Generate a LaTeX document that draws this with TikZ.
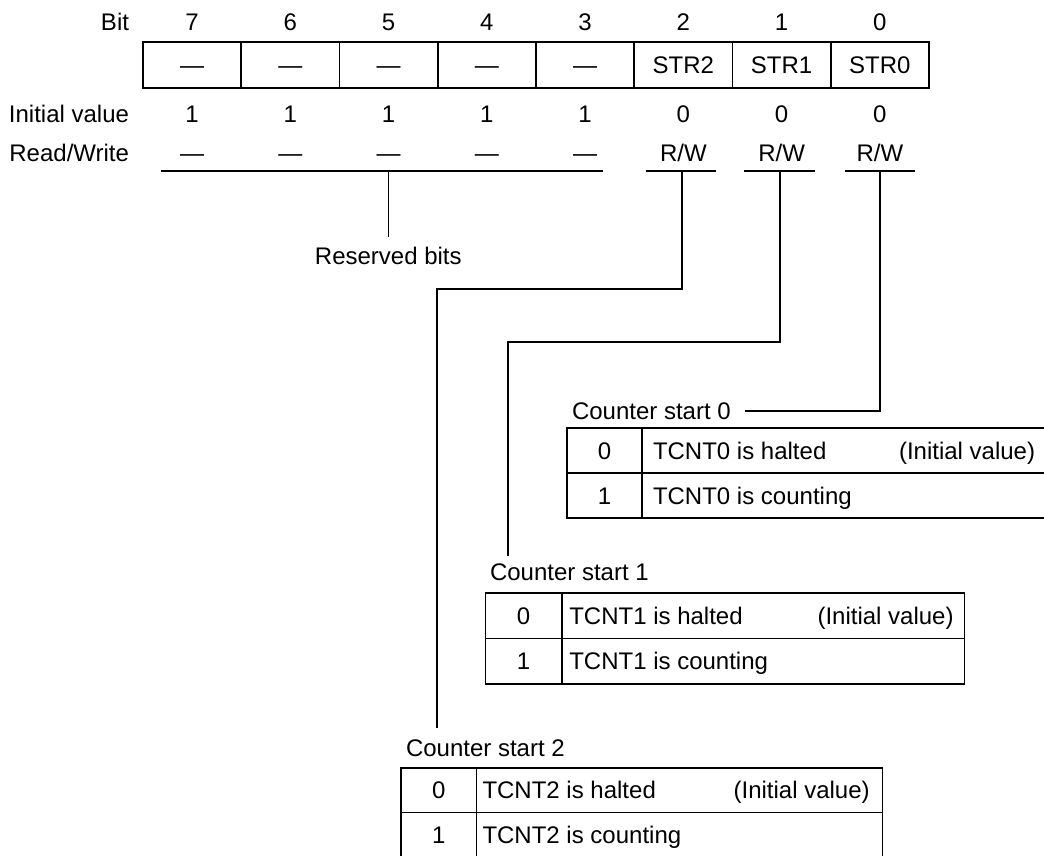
\documentclass[tikz,border=0pt]{standalone}
\usepackage{fontspec}
\setmainfont{Liberation Sans}
\begin{document}
\begin{tikzpicture}[x=0.5pt,y=-0.5pt,line width=0.8pt,
  txt/.style={inner sep=0pt,outer sep=0pt,text height=8.6pt,text depth=0pt,font=\fontsize{12}{14}\selectfont},
  regcell/.style={txt,draw,minimum width=49.125pt,minimum height=23pt},
  cell/.style={txt,draw}]
\useasboundingbox (0,0) rectangle (1044,856);
\clip (0,0) rectangle (1044,856);

% row labels
\node[txt,anchor=east] (lbit) at (129,22) {Bit};
\node[txt,anchor=east] (linit) at (129,114) {Initial value};
\node[txt,anchor=east] (lrw) at (129,153) {Read/Write};

% register
\foreach \b/\t/\iv/\rw [count=\k from 0] in
  {7/—/1/—,6/—/1/—,5/—/1/—,4/—/1/—,3/—/1/—,2/STR2/0/R\slash W,1/STR1/0/R\slash W,0/STR0/0/R\slash W} {
  \node[regcell] (r\b) at ({143+98.25*(\k+0.5)},65) {\t};
  \node[txt] (b\b) at ({143+98.25*(\k+0.5)},22) {\b};
  \node[txt] (iv\b) at ({143+98.25*(\k+0.5)},114) {\iv};
  \node[txt] (rw\b) at ({143+98.25*(\k+0.5)},153) {\rw};
}

% underlines
\coordinate (url) at (161,171);
\coordinate (urr) at (603,171);
\coordinate (u2l) at (646,171);
\coordinate (u2r) at (716,171);
\coordinate (u1l) at (744,171);
\coordinate (u1r) at (815,171);
\coordinate (u0l) at (845,171);
\coordinate (u0r) at (915,171);
\draw (url) -- (urr);
\draw (u2l) -- (u2r);
\draw (u1l) -- (u1r);
\draw (u0l) -- (u0r);

% reserved bits
\node[txt] (rb) at (388.3,255.5) {Reserved bits};
\coordinate (ur) at (388.3,171);
\draw (ur) -- ([yshift=5pt]rb.north);

% table 0
\node[txt,anchor=west] (cs0) at (572,411) {Counter start 0};
\node[cell,minimum width=37.5pt,minimum height=22.5pt] (t0a) at (604.5,450.5) {0};
\node[cell,minimum width=204pt,minimum height=22.5pt] (t0b) at (846,450.5) {};
\node[cell,minimum width=37.5pt,minimum height=22.5pt] (t0c) at (604.5,495.5) {1};
\node[cell,minimum width=204pt,minimum height=22.5pt] (t0d) at (846,495.5) {};
\node[txt,anchor=west] (t0h) at (653,450.5) {TCNT0 is halted};
\node[txt,anchor=west] (t0i) at (899,450.5) {(Initial value)};
\node[txt,anchor=west] (t0k) at (653,495.5) {TCNT0 is counting};

% table 1
\node[txt,anchor=west] (cs1) at (490,572) {Counter start 1};
\node[cell,minimum width=38.2pt,minimum height=22.75pt] (t1a) at (523.6,615.75) {0};
\node[cell,minimum width=201.4pt,minimum height=22.75pt] (t1b) at (763.2,615.75) {};
\node[cell,minimum width=38.2pt,minimum height=22.75pt] (t1c) at (523.6,661.25) {1};
\node[cell,minimum width=201.4pt,minimum height=22.75pt] (t1d) at (763.2,661.25) {};
\node[txt,anchor=west] (t1h) at (569.3,615.75) {TCNT1 is halted};
\node[txt,anchor=west] (t1i) at (817.5,615.75) {(Initial value)};
\node[txt,anchor=west] (t1k) at (569.3,661.25) {TCNT1 is counting};

% table 2
\node[txt,anchor=west] (cs2) at (406,748) {Counter start 2};
\node[cell,minimum width=37.75pt,minimum height=22.25pt] (t2a) at (438.75,790.25) {0};
\node[cell,minimum width=203pt,minimum height=22.25pt] (t2b) at (679.5,790.25) {};
\node[cell,minimum width=37.75pt,minimum height=22.25pt] (t2c) at (438.75,834.75) {1};
\node[cell,minimum width=203pt,minimum height=22.25pt] (t2d) at (679.5,834.75) {};
\node[txt,anchor=west] (t2h) at (482.5,790.25) {TCNT2 is halted};
\node[txt,anchor=west] (t2i) at (733.6,790.25) {(Initial value)};
\node[txt,anchor=west] (t2k) at (482.5,834.75) {TCNT2 is counting};

% connectors
\coordinate (u0) at (880,171);
\draw (u0) |- ([xshift=7pt]cs0.east);
\coordinate (u1) at (780,171);
\coordinate (k1) at (508,342);
\coordinate (e1) at (508,556);
\draw (u1) |- (k1) -- (e1);
\coordinate (u2) at (682,171);
\coordinate (k2) at (436.7,289);
\coordinate (e2) at (436.7,728);
\draw (u2) |- (k2) -- (e2);
\end{tikzpicture}
\end{document}
